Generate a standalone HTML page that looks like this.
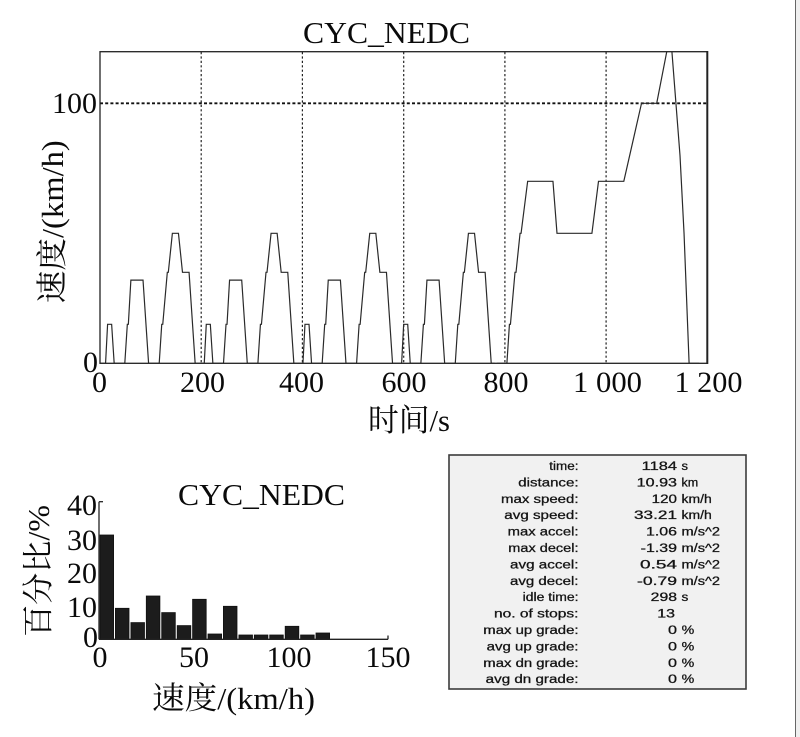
<!DOCTYPE html>
<html>
<head>
<meta charset="utf-8">
<style>
html,body{margin:0;padding:0;background:#fff;}
svg{display:block;}
.s{font-family:"Liberation Serif","Noto Serif CJK SC","Noto Serif CJK JP",serif;fill:#0a0a0a;}
.a{font-family:"Liberation Sans",Arial,sans-serif;font-size:11.5px;fill:#111;stroke:#222;stroke-width:0.3px;}
</style>
</head>
<body>
<svg width="800" height="737" viewBox="0 0 800 737" xmlns="http://www.w3.org/2000/svg">
<rect x="0" y="0" width="800" height="737" fill="#fff"/>
<rect x="795" y="0" width="1" height="737" fill="#666"/>
<rect x="796" y="0" width="4" height="737" fill="#efefef"/>

<!-- ========== MAIN CHART ========== -->
<text class="s" x="303" y="43" font-size="31" textLength="167" lengthAdjust="spacingAndGlyphs">CYC_NEDC</text>

<defs>
<clipPath id="pc"><rect x="100" y="51.7" width="607.3" height="311.6"/></clipPath>
</defs>

<!-- grid -->
<g stroke="#222" stroke-width="1.2" stroke-dasharray="2.2,2.2" fill="none">
<line x1="201.2" y1="52" x2="201.2" y2="363"/>
<line x1="302.4" y1="52" x2="302.4" y2="363"/>
<line x1="403.7" y1="52" x2="403.7" y2="363"/>
<line x1="504.9" y1="52" x2="504.9" y2="363"/>
<line x1="606.1" y1="52" x2="606.1" y2="363"/>
</g>
<line x1="100" y1="103.3" x2="707" y2="103.3" stroke="#111" stroke-width="1.8" stroke-dasharray="3,2.2"/>

<!-- series -->
<g clip-path="url(#pc)" fill="none" stroke="#2a2a2a" stroke-width="1.2" stroke-linejoin="miter">
<path d="M100,363.3 L105.57,363.3 L107.59,324.3 L111.64,324.3 L114.17,363.3 L124.80,363.3 L127.33,324.3 L128.34,324.3 L130.87,280.1 L143.02,280.1 L148.59,363.3 L159.21,363.3 L161.74,324.3 L162.76,324.3 L167.31,272.3 L168.32,272.3 L172.37,233.3 L178.45,233.3 L182.49,272.3 L189.07,272.3 L195.15,363.3 L198.69,363.3"/>
<path transform="translate(98.69,0)" d="M100,363.3 L105.57,363.3 L107.59,324.3 L111.64,324.3 L114.17,363.3 L124.80,363.3 L127.33,324.3 L128.34,324.3 L130.87,280.1 L143.02,280.1 L148.59,363.3 L159.21,363.3 L161.74,324.3 L162.76,324.3 L167.31,272.3 L168.32,272.3 L172.37,233.3 L178.45,233.3 L182.49,272.3 L189.07,272.3 L195.15,363.3 L198.69,363.3"/>
<path transform="translate(197.38,0)" d="M100,363.3 L105.57,363.3 L107.59,324.3 L111.64,324.3 L114.17,363.3 L124.80,363.3 L127.33,324.3 L128.34,324.3 L130.87,280.1 L143.02,280.1 L148.59,363.3 L159.21,363.3 L161.74,324.3 L162.76,324.3 L167.31,272.3 L168.32,272.3 L172.37,233.3 L178.45,233.3 L182.49,272.3 L189.07,272.3 L195.15,363.3 L198.69,363.3"/>
<path transform="translate(296.07,0)" d="M100,363.3 L105.57,363.3 L107.59,324.3 L111.64,324.3 L114.17,363.3 L124.80,363.3 L127.33,324.3 L128.34,324.3 L130.87,280.1 L143.02,280.1 L148.59,363.3 L159.21,363.3 L161.74,324.3 L162.76,324.3 L167.31,272.3 L168.32,272.3 L172.37,233.3 L178.45,233.3 L182.49,272.3 L189.07,272.3 L195.15,363.3 L198.69,363.3"/>
<path transform="translate(2.02,0)" d="M494.76,363.3 L504.88,363.3 L507.41,324.3 L508.42,324.3 L512.98,272.3 L513.99,272.3 L518.04,233.3 L519.05,233.3 L525.63,181.3 L550.94,181.3 L554.98,233.3 L589.90,233.3 L596.48,181.3 L621.79,181.3 L639.50,103.3 L654.69,103.3 L664.81,51.3 L669.87,51.3 L677.97,155.3 L682.02,233.3 L687.08,363.3 L697.20,363.3"/>
</g>

<!-- frame -->
<rect x="100" y="51.7" width="607.3" height="311.6" fill="none" stroke="#222" stroke-width="1.3"/>
<line x1="707.3" y1="51" x2="707.3" y2="364" stroke="#222" stroke-width="2"/>

<!-- y ticks -->
<text class="s" x="97" y="113" font-size="30" text-anchor="end" textLength="45" lengthAdjust="spacingAndGlyphs">100</text>
<text class="s" x="98" y="372" font-size="30" text-anchor="end">0</text>

<!-- x ticks -->
<g class="s" font-size="30" text-anchor="middle">
<text x="99.5" y="392">0</text>
<text x="202.5" y="392">200</text>
<text x="301.5" y="392">400</text>
<text x="404" y="392">600</text>
<text x="506" y="392">800</text>
<text x="607.5" y="392" textLength="69" lengthAdjust="spacingAndGlyphs">1 000</text>
<text x="708.5" y="392" textLength="68" lengthAdjust="spacingAndGlyphs">1 200</text>
</g>

<!-- axis labels -->
<text class="s" x="368" y="431" font-size="31" textLength="82" lengthAdjust="spacingAndGlyphs">时间/s</text>
<text class="s" transform="translate(63,221.7) rotate(-90)" font-size="31" text-anchor="middle" textLength="163" lengthAdjust="spacingAndGlyphs">速度/(km/h)</text>

<!-- ========== HISTOGRAM ========== -->
<text class="s" x="178" y="505" font-size="31" textLength="167" lengthAdjust="spacingAndGlyphs">CYC_NEDC</text>

<g fill="#1c1c1c" stroke="#111" stroke-width="0.8">
<rect x="100.0" y="535.0" width="13.6" height="104.3"/>
<rect x="115.4" y="608.3" width="13.6" height="31"/>
<rect x="130.9" y="622.6" width="13.6" height="16.7"/>
<rect x="146.3" y="596.0" width="13.6" height="43.3"/>
<rect x="161.7" y="612.6" width="13.6" height="26.7"/>
<rect x="177.2" y="625.6" width="13.6" height="13.7"/>
<rect x="192.6" y="599.3" width="13.6" height="40"/>
<rect x="208.0" y="634.0" width="13.6" height="5.3"/>
<rect x="223.4" y="606.3" width="13.6" height="33"/>
<rect x="238.9" y="635.0" width="13.6" height="4.3"/>
<rect x="254.3" y="635.0" width="13.6" height="4.3"/>
<rect x="269.7" y="635.0" width="13.6" height="4.3"/>
<rect x="285.2" y="626.3" width="13.6" height="13"/>
<rect x="300.6" y="635.0" width="13.6" height="4.3"/>
<rect x="316.0" y="633.0" width="13.6" height="6.3"/>
</g>

<g stroke="#222" stroke-width="1.3" fill="none">
<line x1="99" y1="501.7" x2="99" y2="639.3"/>
<line x1="99" y1="639.3" x2="388" y2="639.3"/>
<line x1="99" y1="501.7" x2="103" y2="501.7"/>
<line x1="388" y1="639.3" x2="388" y2="635.5"/>
</g>

<g class="s" font-size="30" text-anchor="end">
<text x="97" y="515">40</text>
<text x="97" y="550">30</text>
<text x="97" y="583">20</text>
<text x="97" y="617">10</text>
<text x="98" y="647">0</text>
</g>
<g class="s" font-size="30" text-anchor="middle">
<text x="100" y="667">0</text>
<text x="194" y="667">50</text>
<text x="289" y="667">100</text>
<text x="388" y="667">150</text>
</g>

<text class="s" x="152" y="709" font-size="31" textLength="163" lengthAdjust="spacingAndGlyphs">速度/(km/h)</text>
<text class="s" transform="translate(49,571) rotate(-90)" font-size="31" text-anchor="middle" textLength="132" lengthAdjust="spacingAndGlyphs">百分比/%</text>

<!-- ========== STATS BOX ========== -->
<rect x="449" y="455" width="297" height="234" fill="#f1f1f1" stroke="#3c3c3c" stroke-width="1.6"/>

<g class="a" text-anchor="end">
<text x="578.5" y="470" textLength="29.2" lengthAdjust="spacingAndGlyphs">time:</text>
<text x="578.5" y="486.4" textLength="60.2" lengthAdjust="spacingAndGlyphs">distance:</text>
<text x="578.5" y="502.8" textLength="77.5" lengthAdjust="spacingAndGlyphs">max speed:</text>
<text x="578.5" y="519.2" textLength="74.2" lengthAdjust="spacingAndGlyphs">avg speed:</text>
<text x="578.5" y="535.6" textLength="70.8" lengthAdjust="spacingAndGlyphs">max accel:</text>
<text x="578.5" y="552" textLength="70.2" lengthAdjust="spacingAndGlyphs">max decel:</text>
<text x="578.5" y="568.4" textLength="68.5" lengthAdjust="spacingAndGlyphs">avg accel:</text>
<text x="578.5" y="584.8" textLength="68.5" lengthAdjust="spacingAndGlyphs">avg decel:</text>
<text x="578.5" y="601.2" textLength="55.8" lengthAdjust="spacingAndGlyphs">idle time:</text>
<text x="578.5" y="617.6" textLength="84.5" lengthAdjust="spacingAndGlyphs">no. of stops:</text>
<text x="578.5" y="634" textLength="95.2" lengthAdjust="spacingAndGlyphs">max up grade:</text>
<text x="578.5" y="650.4" textLength="91.8" lengthAdjust="spacingAndGlyphs">avg up grade:</text>
<text x="578.5" y="666.8" textLength="95.2" lengthAdjust="spacingAndGlyphs">max dn grade:</text>
<text x="578.5" y="683.2" textLength="92.8" lengthAdjust="spacingAndGlyphs">avg dn grade:</text>
</g>

<g class="a" text-anchor="end">
<text x="677" y="470" textLength="35.3" lengthAdjust="spacingAndGlyphs">1184</text>
<text x="677" y="486.4" textLength="40.3" lengthAdjust="spacingAndGlyphs">10.93</text>
<text x="677" y="502.8" textLength="25.3" lengthAdjust="spacingAndGlyphs">120</text>
<text x="677" y="519.2" textLength="43" lengthAdjust="spacingAndGlyphs">33.21</text>
<text x="677" y="535.6" textLength="31" lengthAdjust="spacingAndGlyphs">1.06</text>
<text x="677" y="552" textLength="36.3" lengthAdjust="spacingAndGlyphs">-1.39</text>
<text x="677" y="568.4" textLength="37" lengthAdjust="spacingAndGlyphs">0.54</text>
<text x="677" y="584.8" textLength="40" lengthAdjust="spacingAndGlyphs">-0.79</text>
<text x="677" y="601.2" textLength="26.3" lengthAdjust="spacingAndGlyphs">298</text>
<text x="675" y="617.6" textLength="17.7" lengthAdjust="spacingAndGlyphs">13</text>
<text x="677" y="634" textLength="9" lengthAdjust="spacingAndGlyphs">0</text>
<text x="677" y="650.4" textLength="9" lengthAdjust="spacingAndGlyphs">0</text>
<text x="677" y="666.8" textLength="9" lengthAdjust="spacingAndGlyphs">0</text>
<text x="677" y="683.2" textLength="9" lengthAdjust="spacingAndGlyphs">0</text>
</g>

<g class="a">
<text x="681.5" y="470" textLength="6.5" lengthAdjust="spacingAndGlyphs">s</text>
<text x="681.5" y="486.4" textLength="16.8" lengthAdjust="spacingAndGlyphs">km</text>
<text x="681.5" y="502.8" textLength="30.2" lengthAdjust="spacingAndGlyphs">km/h</text>
<text x="681.5" y="519.2" textLength="30.2" lengthAdjust="spacingAndGlyphs">km/h</text>
<text x="681.5" y="535.6" textLength="38.5" lengthAdjust="spacingAndGlyphs">m/s^2</text>
<text x="681.5" y="552" textLength="38.5" lengthAdjust="spacingAndGlyphs">m/s^2</text>
<text x="681.5" y="568.4" textLength="38.5" lengthAdjust="spacingAndGlyphs">m/s^2</text>
<text x="681.5" y="584.8" textLength="38.5" lengthAdjust="spacingAndGlyphs">m/s^2</text>
<text x="681.5" y="601.2" textLength="6.8" lengthAdjust="spacingAndGlyphs">s</text>
<text x="681.7" y="634" textLength="12.6" lengthAdjust="spacingAndGlyphs">%</text>
<text x="681.7" y="650.4" textLength="12.6" lengthAdjust="spacingAndGlyphs">%</text>
<text x="681.7" y="666.8" textLength="12.6" lengthAdjust="spacingAndGlyphs">%</text>
<text x="681.7" y="683.2" textLength="12.6" lengthAdjust="spacingAndGlyphs">%</text>
</g>
</svg>
</body>
</html>
